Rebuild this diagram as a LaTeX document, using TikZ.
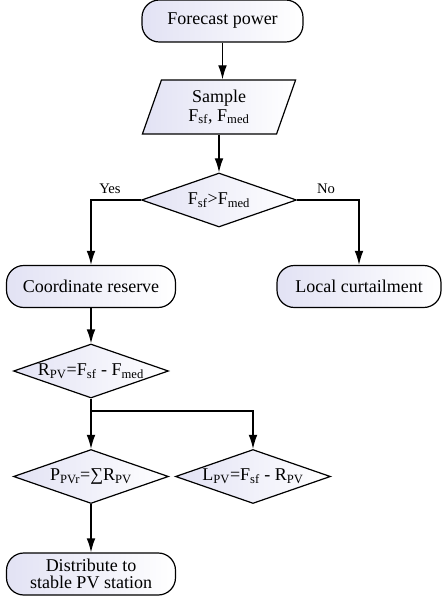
\documentclass[tikz,border=0pt]{standalone}
\usepackage{fontspec}
\setmainfont{Liberation Serif}
\usetikzlibrary{shapes.geometric,arrows.meta}
\definecolor{boxtint}{RGB}{226,226,244}
\newcommand{\sub}[1]{\textsubscript{#1}}
\begin{document}
\begin{tikzpicture}[x=0.75pt, y=-0.75pt, >={Latex[length=10.5pt,width=6.5pt]},
    line width=0.9pt, font=\fontsize{13.5}{15}\selectfont,
    term/.style={draw, rounded corners=13pt, left color=boxtint, right color=white,
        minimum height=31.5pt, inner sep=0pt, align=center},
    decide/.style={draw, diamond, left color=boxtint, right color=white,
        minimum width=116.25pt, minimum height=40.5pt, inner sep=0pt, aspect=2.9},
    inout/.style={draw, trapezium, trapezium left angle=73.5, trapezium right angle=106.5,
        trapezium stretches=true, left color=boxtint, right color=white,
        minimum width=115.5pt, minimum height=40.5pt, inner sep=0pt, align=center},
    tag/.style={font=\fontsize{11}{12}\selectfont}]
    \useasboundingbox (0,0) rectangle (442,599);
    % main chain
    \node[term, minimum width=120.75pt] (forecast) at (222.5,21) {Forecast power};
    \node[inout] (sample) at (219,107) {Sample\\[-1pt]F\sub{sf}, F\sub{med}};
    \node[decide] (cmp) at (219,200) {F\sub{sf}>F\sub{med}};
    \node[term, minimum width=126.75pt] (coord) at (91,286.5) {Coordinate reserve};
    \node[term, minimum width=123pt] (curtail) at (359,286.5) {Local curtailment};
    \node[decide] (rpv) at (91,371) {R\sub{PV}=F\sub{sf} - F\sub{med}};
    \node[decide] (ppvr) at (91,476.5) {P\sub{PVr}=∑R\sub{PV}};
    \node[decide] (lpv) at (253,476.5) {L\sub{PV}=F\sub{sf} - R\sub{PV}};
    \node[term, minimum width=126.75pt] (distrib) at (91,574) {Distribute to\\[-2pt]stable PV station};
    \coordinate (split) at (91,411);

    % labels on the branches
    \node[tag] (yes) at (110,189) {Yes};
    \node[tag] (no) at (326,189) {No};

    \draw[->] (forecast) -- (forecast.south |- sample.north);
    \draw[->] (sample.south -| cmp.north) -- (cmp.north);
    \draw[->] (cmp.west) -| (coord.north);
    \draw[->] (cmp.east) -| (curtail.north);
    \draw[->] (coord) -- (rpv);
    \draw[->] (rpv) -- (ppvr);
    \draw[->] (split) -| (lpv.north);
    \draw[->] (ppvr) -- (distrib);
\end{tikzpicture}
\end{document}
